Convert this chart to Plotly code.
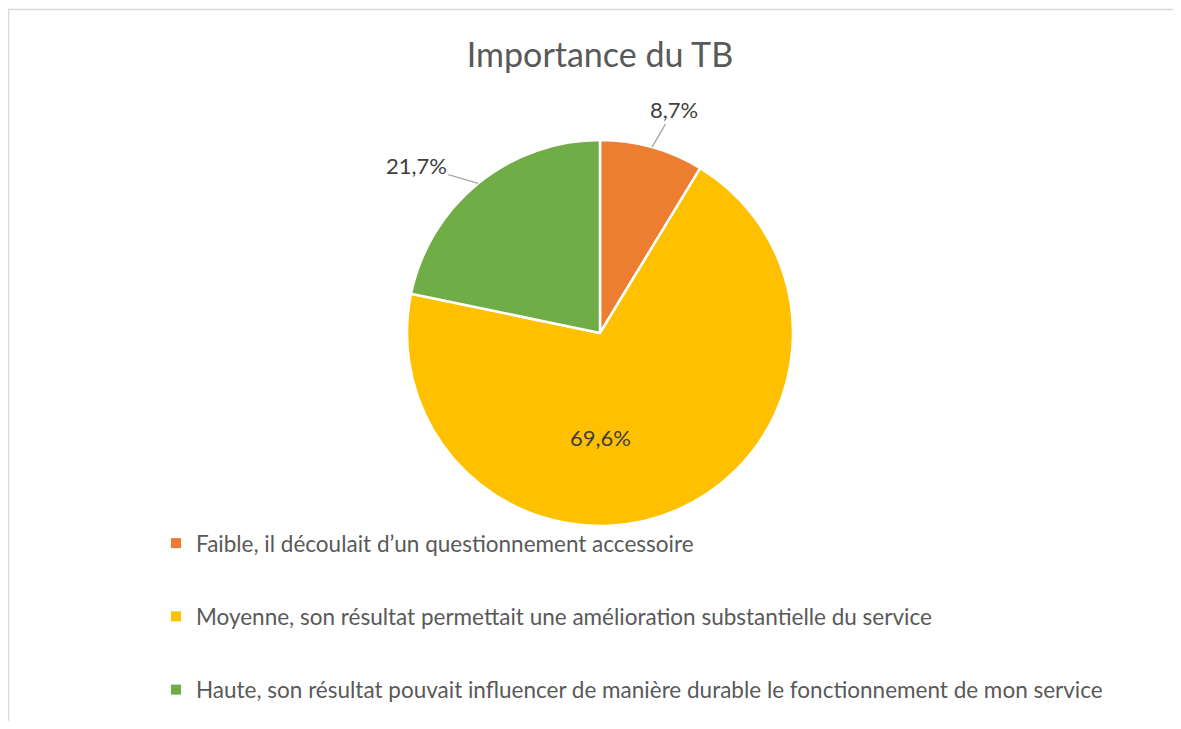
import math
import plotly.graph_objects as go

# survey answers (23 respondents)
categories = [
    "Faible, il découlait d’un questionnement accessoire",
    "Moyenne, son résultat permettait une amélioration substantielle du service",
    "Haute, son résultat pouvait influencer de manière durable le fonctionnement de mon service",
]
counts = [2, 16, 5]
colors = ["#ED7D31", "#FFC000", "#70AD47"]

W, H = 1181, 729
OFF = 8  # page body margin
FW, FH = W - 2 * OFF, H - 2 * OFF  # keep the page free of scrollbars
cx, cy, r = 600, 333, 193  # pie centre / radius in page px


def px2paper(x, y):
    return (x - OFF) / FW, 1 - (y - OFF) / FH


FONT = "Lato"

total = sum(counts)
pct = [c / total for c in counts]
labels_txt = [("%.1f%%" % (p * 100)).replace(".", ",") for p in pct]

fig = go.Figure()
x0, y0 = px2paper(cx - r, cy + r)
x1, y1 = px2paper(cx + r, cy - r)
fig.add_trace(go.Pie(
    labels=categories,
    values=counts,
    sort=False,
    direction="clockwise",
    rotation=0,
    marker=dict(colors=colors, line=dict(color="white", width=2.5)),
    textinfo="none",
    domain=dict(x=[x0, x1], y=[y0, y1]),
    showlegend=False,
    hoverinfo="label+percent",
))

# legend entries as dummy markers so the gap between them can be set
for i, name in enumerate(categories):
    fig.add_trace(go.Scatter(
        x=[None], y=[None], mode="markers", name=name,
        marker=dict(symbol="square", size=10, color=colors[i]),
        legendgroup=str(i),
    ))

# data labels: outside with leader lines for small slices, inside for the big one
offsets = {0: (22, -38), 2: (-62, -18)}
start = 0
for i, p in enumerate(pct):
    mid = (start + p / 2) * 2 * math.pi
    start += p
    lab_font = dict(family=FONT, size=22, color="#404040")
    if i in offsets:
        ax_, ay_ = px2paper(cx + r * math.sin(mid), cy - r * math.cos(mid))
        fig.add_annotation(
            x=ax_, y=ay_, xref="paper", yref="paper",
            text=labels_txt[i], showarrow=True, arrowhead=0, arrowwidth=1.3,
            arrowcolor="#A6A6A6", ax=offsets[i][0], ay=offsets[i][1],
            font=lab_font,
        )
    else:
        tx, ty = px2paper(cx, cy + 104)
        fig.add_annotation(x=tx, y=ty, xref="paper", yref="paper",
                           text=labels_txt[i], showarrow=False, font=lab_font)

bx, by = px2paper(8.5, 9.5)
fig.add_shape(type="rect", xref="paper", yref="paper",
              x0=bx, x1=1.2, y0=-0.2, y1=by,
              line=dict(color="#D9D9D9", width=1.5))

tx, ty = px2paper(600, 55)
lx, ly = px2paper(156, 522)
fig.update_layout(
    width=FW, height=FH,
    margin=dict(l=0, r=0, t=0, b=0),
    paper_bgcolor="white", plot_bgcolor="white",
    title=dict(text="Importance du TB", x=tx, xanchor="center",
               y=ty, yanchor="middle",
               font=dict(family=FONT, size=34, color="#595959")),
    xaxis=dict(visible=False), yaxis=dict(visible=False),
    legend=dict(x=lx, y=ly, xanchor="left", yanchor="top",
                tracegroupgap=41, itemwidth=30, bgcolor="rgba(0,0,0,0)",
                font=dict(family=FONT, size=22.5, color="#595959")),
)

fig.write_html("out.html")
